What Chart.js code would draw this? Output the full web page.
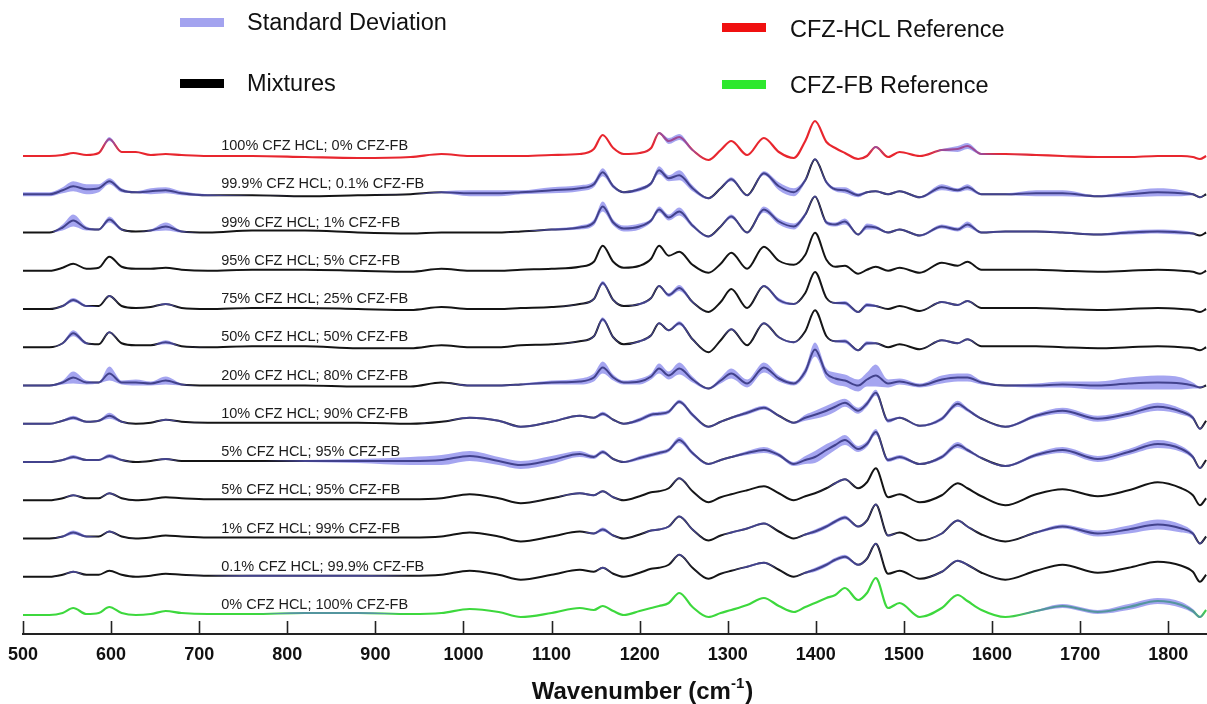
<!DOCTYPE html>
<html>
<head>
<meta charset="utf-8">
<script src="https://cdn.jsdelivr.net/npm/chart.js@4.4.1/dist/chart.umd.min.js"></script>
<style>
  html, body { margin: 0; padding: 0; background: #fff; }
  #wrap { position: relative; width: 1207px; height: 704px; }
  #c { position: absolute; left: 0; top: 0; }
  .lg { position: absolute; font: 23.5px "Liberation Sans", Arial, sans-serif; color: #111; line-height: 26px; white-space: nowrap; }
  .lg i { position: absolute; width: 44px; height: 9px; }
</style>
</head>
<body>
<div id="wrap">
  <canvas id="c" width="1207" height="704"></canvas>
  <div class="lg" style="left:247px;top:9px"><i style="left:-67px;top:9px;background:#a3a3ef"></i>Standard Deviation</div>
  <div class="lg" style="left:247px;top:70px"><i style="left:-67px;top:9px;background:#000"></i>Mixtures</div>
  <div class="lg" style="left:790px;top:16px"><i style="left:-68px;top:7px;background:#f01010"></i>CFZ-HCL Reference</div>
  <div class="lg" style="left:790px;top:72px"><i style="left:-68px;top:8px;background:#2ee82e"></i>CFZ-FB Reference</div>
</div>
<script>
'use strict';
// Raman-Spektren, gestapelt; Werte = Höhe über der eigenen Grundlinie (a.u.)

const wavenumber = [500,530,545,557,572,586,598,612,628,645,662,680,710,760,820,880,940,975,1007,1040,
  1065,1100,1132,1148,1158,1170,1182,1200,1213,1222,1233,1245,1260,1278,1292,1304,1322,1341,1358,1375,
  1388,1399,1412,1422,1433,1448,1458,1468,1482,1495,1518,1543,1561,1572,1588,1615,1650,1680,1720,1755,
  1788,1815,1828,1836,1843];

const rowLabels = [
  '100% CFZ HCL; 0% CFZ-FB', '99.9% CFZ HCL; 0.1% CFZ-FB', '99% CFZ HCL; 1% CFZ-FB',
  '95% CFZ HCL; 5% CFZ-FB', '75% CFZ HCL; 25% CFZ-FB', '50% CFZ HCL; 50% CFZ-FB',
  '20% CFZ HCL; 80% CFZ-FB', '10% CFZ HCL; 90% CFZ-FB', '5% CFZ HCL; 95% CFZ-FB',
  '5% CFZ HCL; 95% CFZ-FB', '1% CFZ HCL; 99% CFZ-FB', '0.1% CFZ HCL; 99.9% CFZ-FB',
  '0% CFZ HCL; 100% CFZ-FB'];

const xTicks = [500,600,700,800,900,1000,1100,1200,1300,1400,1500,1600,1700,1800];

// mittlere Spektren
const hcl100 = [0,0,1,3,1,3,17,4,4,1, 2,1,0,0,-1,-2,-1,2,0,0, 0,1,2,7,21,8,2,3,8,23, 15,19,6,-4,6,15,1,18,4,-2,
  15,35,14,8,3,-3,0,9,-1,4, 0,6,7,10,2,2,1,0,-1,-1, 0,0,-1,-3,0];
const hcl999 = [0,0,4,8,5,6,13,4,2,3, 4,1,-1,-1,-2,-1,0,2,1,1, 2,4,6,10,22,8,2,5,11,24, 16,19,6,-4,6,15,-1,21,8,2,
  14,35,12,5,4,-1,2,3,0,3, -3,7,4,7,0,0,1,1,-2,0, 2,1,0,-3,0];
const hcl99 = [0,0,5,12,4,3,13,3,1,2, 6,1,0,2,2,0,-1,0,0,0, 1,3,5,10,26,10,4,6,12,23, 15,21,7,-4,6,16,0,23,11,6,
  18,36,10,8,11,-2,6,5,0,3, -3,6,3,8,0,1,1,0,-2,0, 1,0,-1,-3,0];
const hcl95 = [0,0,3,7,2,3,14,4,2,2, 3,1,0,1,1,0,-1,2,0,0, 1,2,4,9,25,9,3,5,12,25, 15,19,6,-2,7,18,2,24,10,6,
  16,38,11,4,5,-3,1,4,0,3, -2,8,5,9,1,1,1,0,-1,0, 1,0,-1,-3,0];
const hcl75 = [0,0,3,9,3,3,13,3,1,2, 5,1,0,1,1,0,-1,2,0,0, 1,2,5,10,26,9,3,5,11,23, 14,21,7,-3,7,20,1,23,9,5,
  16,37,11,6,6,-3,4,3,0,3, -2,7,4,8,1,1,1,0,-1,0, 1,0,-1,-3,0];
const hcl50 = [0,0,4,14,4,3,15,4,2,2, 5,1,0,1,1,-1,-1,2,0,0, 2,3,6,11,28,10,3,6,12,24, 17,24,8,-5,7,18,2,24,10,5,
  16,37,11,6,6,-3,4,4,0,3, -2,7,4,8,1,1,1,0,-1,0, 1,0,-1,-3,0];
const hcl20 = [0,0,3,8,3,3,12,3,3,2, 5,1,0,0,0,-1,-1,3,0,0, 1,3,4,8,18,8,3,4,9,17, 10,17,6,-3,5,12,2,18,7,2,
  14,36,12,7,5,0,6,10,2,4, 0,6,8,8,3,0,0,1,0,2, 3,2,0,-2,0];
const hcl10 = [0,0,3,6,2,3,8,2,0,1, 4,2,1,1,1,1,0,2,6,3, -3,2,8,6,10,4,0,4,9,10, 12,22,9,-3,2,6,11,16,8,1,
  6,9,13,17,21,13,20,31,3,6, -2,5,20,14,5,-3,8,13,5,10, 17,12,6,-5,3];
const hcl5a = [0,0,2,5,2,2,6,2,0,1, 3,1,1,1,1,1,1,2,6,1, -3,2,8,5,10,3,0,4,7,9, 12,22,9,-2,2,5,9,12,7,-2,
  2,5,12,17,22,13,18,30,2,5, -2,5,17,12,4,-4,7,12,3,10, 18,13,5,-6,2];
const hcl5b = [0,0,2,5,2,2,7,2,0,1, 3,2,1,1,1,1,1,2,6,2, -3,2,7,5,9,3,0,4,8,9, 12,22,9,-2,3,6,10,14,7,0,
  4,7,12,17,21,12,18,32,3,6, -2,5,17,12,4,-5,6,11,4,10, 18,12,5,-5,2];
const hcl1 = [0,0,2,6,2,2,7,2,0,1, 3,2,1,1,1,1,1,2,6,2, -3,2,7,5,9,3,0,4,8,9, 12,22,9,-2,3,6,10,15,7,0,
  4,7,12,17,21,12,18,34,3,6, -2,5,18,12,4,-3,6,12,5,9, 14,10,5,-5,2];
const hcl01 = [0,0,2,5,2,2,6,2,0,1, 3,2,1,1,1,1,1,2,6,2, -3,2,7,5,9,3,0,4,8,9, 12,22,9,-2,3,6,10,14,7,0,
  4,7,12,17,20,12,18,33,3,6, -2,5,16,12,4,-3,6,12,4,9, 15,11,5,-5,2];
const hcl0 = [0,0,2,7,1,2,8,2,0,1, 4,2,1,1,2,2,1,2,6,3, -2,2,7,5,9,4,0,4,7,9, 12,22,8,-2,2,5,10,17,9,3,
  8,12,17,20,27,15,22,37,7,12, -2,7,20,14,5,-2,4,9,3,8, 14,10,4,-2,5];

// Standardabweichung (halbe Bandbreite)
const sd100 = [0,0,0,0,0,0,2,0,0,0, 0,0,0,0,0,0,0,0,0,0, 0,0,0,0,0,0,0,0,0,1, 3,3,1,0,0,0,0,0,0,0,
  0,0,0,0,0,0,0,1,0,0, 0,1,3,3,1,0,0,0,0,0, 0,0,0,0,0];
const sd999 = [2,2,3,5,5,4,3,2,1,3, 3,2,1,0,0,0,0,1,3,3, 2,3,3,3,4,2,1,2,2,4, 3,5,3,1,1,2,1,2,4,4,
  2,1,2,2,3,2,1,1,1,1, 1,3,2,3,1,1,3,3,1,3, 4,3,1,1,0];
const sd99 = [0,0,3,6,2,1,3,1,0,1, 4,1,0,0,0,0,0,0,0,0, 0,1,2,3,5,3,3,3,2,3, 3,4,2,1,1,2,1,3,3,3,
  2,1,2,2,3,1,3,2,1,1, 1,2,2,3,1,1,1,1,1,2, 2,2,1,0,0];
const sd75 = [0,0,1,2,1,0,1,0,0,0, 1,0,0,0,0,0,0,0,0,0, 0,0,0,1,2,1,0,1,1,1, 2,3,1,0,0,0,0,1,2,1,
  0,0,0,1,2,1,2,1,0,0, 0,1,1,1,0,0,0,0,0,0, 0,0,0,0,0];
const sd50 = [0,0,1,3,1,0,1,0,0,0, 2,0,0,0,0,0,0,0,0,0, 0,0,0,1,2,1,0,1,1,1, 1,2,1,0,0,1,0,1,1,1,
  0,0,0,1,2,1,2,1,0,0, 0,1,1,1,0,0,0,0,0,0, 0,0,0,0,0];
const sd20 = [1,1,2,6,2,1,7,2,3,2, 4,1,0,0,0,0,0,0,1,1, 1,2,3,4,6,3,2,3,3,5, 4,6,3,1,3,5,4,5,3,2,
  4,7,5,6,6,6,7,11,4,3, 2,4,4,4,2,1,2,3,4,6, 7,6,3,1,0];
const sd10 = [1,1,1,2,1,1,3,1,0,0, 1,0,0,0,0,0,0,0,1,1, 1,1,1,1,2,1,1,2,2,2, 2,2,2,1,1,1,2,2,1,1,
  3,4,5,5,4,3,3,3,2,1, 1,2,3,2,1,1,2,3,3,3, 4,3,2,1,0];
const sd5a = [1,1,1,2,1,1,2,1,0,0, 1,0,0,0,1,2,4,5,5,4, 4,4,3,2,2,1,1,2,2,2, 2,3,2,1,1,1,2,3,2,2,
  4,6,6,5,5,3,3,3,2,2, 1,2,3,2,1,1,2,3,3,3, 4,3,2,1,0];
const sd5b = [0,0,0,1,0,0,1,0,0,0, 0,0,0,0,0,0,0,0,0,0, 0,0,1,1,1,1,0,0,0,0, 0,1,0,0,0,0,0,0,0,0,
  0,0,0,1,1,0,0,0,0,0, 0,0,0,0,0,0,0,0,0,0, 0,0,0,0,0];
const sd1 = [0,0,1,2,1,0,1,0,0,0, 0,0,0,0,0,0,0,0,0,0, 0,0,0,1,2,1,0,0,1,1, 1,1,1,0,0,1,1,1,0,0,
  1,2,2,2,2,1,1,1,1,0, 0,1,1,1,0,0,1,2,3,4, 5,4,2,1,0];
const sd01 = [0,0,0,1,0,0,0,0,0,0, 0,0,0,1,1,1,0,0,0,0, 0,0,0,0,1,0,0,0,0,0, 0,1,0,0,0,0,1,1,0,0,
  1,2,2,2,2,1,1,1,0,0, 0,1,1,1,0,0,0,0,0,0, 0,0,0,0,0];
const sd0 = [0,0,0,0,0,0,0,0,0,0, 0,0,0,0,1,1,0,0,0,0, 0,0,0,0,0,0,0,0,0,0, 0,0,0,0,0,0,0,0,0,0,
  0,0,0,0,0,0,0,0,0,0, 0,0,0,0,0,0,1,2,2,3, 3,3,2,1,0];

const rows = [
  { v: hcl100, sd: sd100, color: '#e8262e' },
  { v: hcl999, sd: sd999 }, { v: hcl99, sd: sd99 }, { v: hcl95, sd: null },
  { v: hcl75, sd: sd75 }, { v: hcl50, sd: sd50 }, { v: hcl20, sd: sd20 },
  { v: hcl10, sd: sd10 }, { v: hcl5a, sd: sd5a }, { v: hcl5b, sd: sd5b },
  { v: hcl1, sd: sd1 }, { v: hcl01, sd: sd01 },
  { v: hcl0, sd: sd0, color: '#3dd83d' },
];

const ROW_GAP = 38.25;                 // Abstand der Spuren
const BAND = 'rgba(100,100,230,0.58)';
const offsetOf = i => (rows.length - 1 - i) * ROW_GAP;
const pts = (i, f) => wavenumber.map((w, j) => ({ x: w, y: offsetOf(i) + f(j) }));

const datasets = [];
rows.forEach((r, i) => {
  datasets.push({ data: pts(i, j => r.v[j]), borderColor: r.color || '#141414',
    borderWidth: r.color ? 2.2 : 2, pointRadius: 0, fill: false, order: 2 });
  if (r.sd) {
    datasets.push({ data: pts(i, j => r.v[j] + r.sd[j]), borderWidth: 0, pointRadius: 0,
      backgroundColor: BAND, fill: '+1', order: 1 });
    datasets.push({ data: pts(i, j => r.v[j] - r.sd[j]), borderWidth: 0, pointRadius: 0,
      backgroundColor: BAND, fill: false, order: 1 });
  }
});

const SANS = '"Liberation Sans", Arial, sans-serif';

// Beschriftungen, nach innen zeigende Ticks, Achsentitel
const overlay = {
  id: 'overlay',
  afterDraw(chart) {
    const { ctx, chartArea: a, scales: { x, y } } = chart;
    ctx.save();
    ctx.strokeStyle = '#222';
    ctx.lineWidth = 1.6;
    xTicks.forEach(t => {
      const px = Math.round(x.getPixelForValue(t)) + 0.5;
      ctx.beginPath(); ctx.moveTo(px, a.bottom); ctx.lineTo(px, a.bottom - 13); ctx.stroke();
    });
    ctx.font = '14.5px ' + SANS;
    ctx.fillStyle = '#1c1c1c';
    ctx.textBaseline = 'middle';
    rowLabels.forEach((s, i) => ctx.fillText(s, x.getPixelForValue(725), y.getPixelForValue(offsetOf(i)) - 10));

    const main = 'Wavenumber (cm', sup = '-1', tail = ')';
    const f1 = 'bold 24px ' + SANS, f2 = 'bold 15px ' + SANS;
    ctx.font = f1; const w1 = ctx.measureText(main).width, w3 = ctx.measureText(tail).width;
    ctx.font = f2; const w2 = ctx.measureText(sup).width;
    let cx = 642 - (w1 + w2 + w3) / 2;
    ctx.fillStyle = '#111';
    ctx.textBaseline = 'alphabetic';
    ctx.font = f1; ctx.fillText(main, cx, 699); cx += w1;
    ctx.font = f2; ctx.fillText(sup, cx, 688); cx += w2 + 1;
    ctx.font = f1; ctx.fillText(tail, cx, 699);
    ctx.restore();
  },
};

new Chart(document.getElementById('c'), {
  type: 'line',
  data: { datasets },
  plugins: [overlay],
  options: {
    responsive: false, animation: false, events: [],
    layout: { padding: { top: 100, left: 23, right: 0, bottom: 0 } },
    elements: { line: { cubicInterpolationMode: 'monotone' } },
    plugins: { legend: { display: false }, tooltip: { enabled: false } },
    scales: {
      x: {
        type: 'linear', min: 500, max: 1844,
        grid: { display: false },
        border: { display: true, color: '#222', width: 2 },
        ticks: { stepSize: 100, includeBounds: false, padding: 2, color: '#111', maxRotation: 0,
          font: { family: SANS, size: 18, weight: 'bold' }, callback: v => String(v) },
        afterFit(s) { s.height = 70; },
      },
      y: { type: 'linear', display: false, min: -19, max: 515 },
    },
  },
});
</script>
</body>
</html>
